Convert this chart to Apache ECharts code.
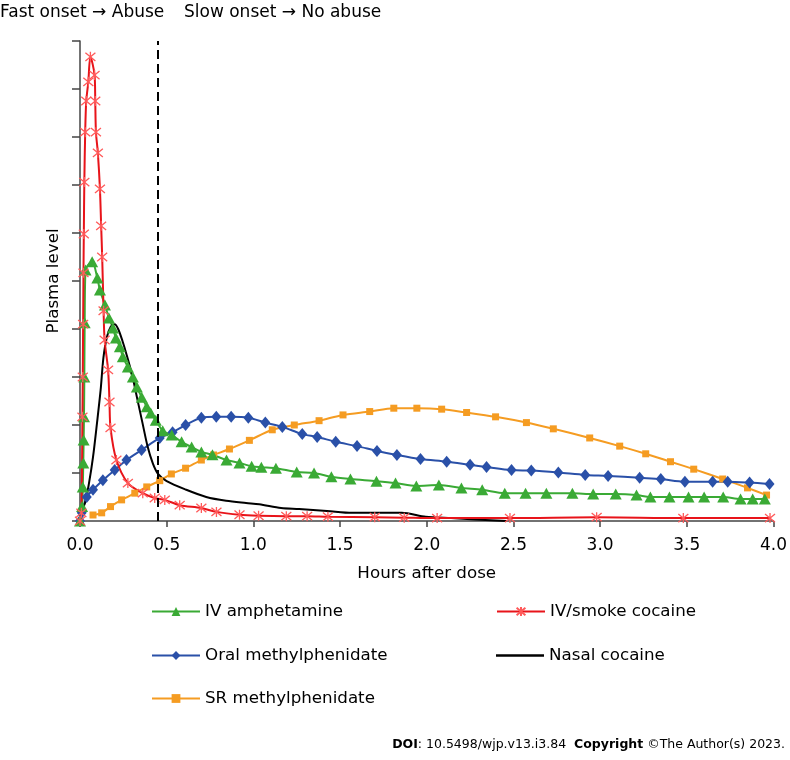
<!DOCTYPE html>
<html>
<head>
<meta charset="utf-8">
<script src="https://cdn.jsdelivr.net/npm/echarts@6/dist/echarts.min.js"></script>
<style>
html,body{margin:0;padding:0;background:#fff;}
#chart{width:790px;height:760px;}
</style>
</head>
<body>
<div id="chart"></div>
<script>
// ---- data (hours after dose, plasma level in % of axis) ----
const xTicks = [0, 0.5, 1.0, 1.5, 2.0, 2.5, 3.0, 3.5, 4.0];
const onsetCutoff = 0.45;

const ivAmphetamine = [
  [0,0],[0.012,3],[0.016,7.1],[0.019,12.1],[0.021,16.9],[0.023,21.7],[0.025,30],[0.027,41.3],
  [0.032,52.3],[0.07,54],[0.10,50.6],[0.115,48.1],[0.144,45],[0.167,42.3],[0.19,40.2],[0.207,38.1],
  [0.23,36.3],[0.247,34.2],[0.276,32.1],[0.305,30],[0.328,27.9],[0.356,25.8],[0.385,23.8],[0.408,22.5],
  [0.437,21],[0.477,18.8],[0.529,17.9],[0.586,16.5],[0.644,15.4],[0.70,14.4],[0.764,13.8],[0.845,12.7],
  [0.92,12.1],[0.99,11.4],[1.046,11.2],[1.13,11],[1.25,10.2],[1.35,10],[1.45,9.2],[1.56,8.75],
  [1.71,8.3],[1.82,7.9],[1.94,7.3],[2.07,7.5],[2.2,6.9],[2.32,6.5],[2.45,5.8],[2.57,5.8],
  [2.69,5.8],[2.84,5.8],[2.96,5.6],[3.09,5.6],[3.21,5.4],[3.29,5],[3.40,5],[3.51,5],
  [3.60,5],[3.71,5],[3.81,4.6],[3.88,4.6],[3.95,4.6]
];

const ivSmokeCocaine = [
  [0,0],[0.008,1.7],[0.014,21.7],[0.016,30],[0.018,41],[0.02,51.7],[0.022,59.8],[0.025,70.6],
  [0.03,81],[0.036,87.5],[0.048,91.5],[0.06,96.7],[0.084,92.9],[0.088,87.5],[0.092,81],[0.103,76.7],
  [0.115,69.2],[0.122,61.5],[0.128,55],[0.136,43.8],[0.142,37.7],[0.162,31.5],[0.17,24.8],[0.176,19.4],
  [0.21,12.7],[0.276,7.9],[0.362,5.8],[0.431,4.8],[0.489,4.4],[0.575,3.3],[0.70,2.7],[0.787,1.9],
  [0.92,1.3],[1.03,1.1],[1.19,1.0],[1.31,1.0],[1.43,0.9],[1.70,0.8],[1.87,0.7],[2.06,0.6],
  [2.48,0.6],[2.98,0.8],[3.48,0.6],[3.98,0.6]
];

const oralMethylphenidate = [
  [0,0],[0.01,1.7],[0.039,5],[0.075,6.5],[0.132,8.5],[0.20,10.6],[0.268,12.7],[0.355,14.8],
  [0.46,17.3],[0.534,18.5],[0.609,20],[0.70,21.5],[0.786,21.7],[0.872,21.7],[0.971,21.5],[1.069,20.5],
  [1.167,19.6],[1.282,18.1],[1.368,17.5],[1.475,16.5],[1.598,15.6],[1.713,14.6],[1.828,13.75],[1.964,12.9],
  [2.115,12.35],[2.25,11.7],[2.345,11.25],[2.489,10.6],[2.603,10.5],[2.759,10.1],[2.914,9.6],[3.046,9.4],
  [3.228,9.0],[3.35,8.75],[3.489,8.2],[3.649,8.2],[3.736,8.2],[3.862,8.0],[3.977,7.7]
];

const nasalCocaine = [
  [0,0],[0.004,1.7],[0.029,3.75],[0.052,7.9],[0.075,13.3],[0.098,20.4],[0.119,27.3],[0.135,34],
  [0.155,38.3],[0.178,40.5],[0.2,41],[0.22,40],[0.245,37.5],[0.27,34.5],[0.3,30.5],[0.33,25.5],
  [0.36,20.5],[0.39,15.5],[0.42,12],[0.45,9.8],[0.5,8.3],[0.613,6.5],[0.728,5],[0.843,4.2],
  [0.958,3.75],[1.034,3.5],[1.16,2.7],[1.264,2.5],[1.425,2.1],[1.569,1.7],[1.707,1.7],[1.856,1.7],
  [1.994,0.9],[2.14,0.6],[2.46,0]
];

const srMethylphenidate = [
  [0.075,1.25],[0.125,1.7],[0.176,3.0],[0.24,4.4],[0.316,5.8],[0.385,7.1],[0.46,8.4],[0.527,9.8],
  [0.609,11],[0.70,12.7],[0.77,13.75],[0.862,15],[0.977,16.8],[1.109,19],[1.236,20],[1.379,20.9],
  [1.517,22.1],[1.671,22.8],[1.81,23.5],[1.943,23.5],[2.086,23.3],[2.23,22.6],[2.397,21.7],[2.575,20.5],
  [2.73,19.2],[2.94,17.3],[3.113,15.6],[3.263,14],[3.406,12.35],[3.54,10.8],[3.707,8.75],[3.85,6.9],
  [3.96,5.4]
];

const seriesNames = ['IV amphetamine','IV/smoke cocaine','Oral methylphenidate','Nasal cocaine','SR methylphenidate'];
const topTextLeft = 'Fast onset \u2192 Abuse';
const topTextRight = 'Slow onset \u2192 No abuse';

// ---- chart ----
const FONT = 'DejaVu Sans';
const chart = echarts.init(document.getElementById('chart'), null, {renderer:'canvas'});
const asterisk = 'path://M0,0L10,10M10,0L0,10M5,-1L5,11';

function legendAt(name, left, top, extra){
  return Object.assign({data:[name], left:left, top:top, orient:'vertical', itemWidth:48, itemHeight:11, itemGap:5,
    textStyle:{fontFamily:FONT, fontSize:16.7, color:'#000'}, selectedMode:false}, extra || {});
}

const option = {
  animation:false,
  backgroundColor:'#fff',
  grid:{left:80, right:14, top:41, bottom:239, containLabel:false},
  xAxis:{
    type:'value', min:0, max:4, interval:0.5,
    name:'Hours after dose', nameLocation:'middle', nameGap:44,
    nameTextStyle:{fontFamily:FONT, fontSize:16.7, color:'#000'},
    axisLine:{lineStyle:{color:'#444', width:1.5}},
    axisTick:{show:true, length:6, lineStyle:{color:'#444', width:1.5}},
    axisLabel:{fontFamily:FONT, fontSize:17, color:'#000', margin:16, formatter:v=>v.toFixed(1)},
    splitLine:{show:false}
  },
  yAxis:{
    type:'value', min:0, max:100, interval:10,
    name:'Plasma level', nameLocation:'middle', nameGap:18, nameRotate:90,
    nameTextStyle:{fontFamily:FONT, fontSize:16.7, color:'#000'},
    axisLine:{show:true, lineStyle:{color:'#444', width:1.5}},
    axisTick:{show:true, length:8, lineStyle:{color:'#444', width:1.5}},
    axisLabel:{show:false},
    splitLine:{show:false}
  },
  legend:[
    legendAt(seriesNames[0], 146, 598),
    legendAt(seriesNames[2], 146, 642),
    legendAt(seriesNames[4], 146, 685),
    legendAt(seriesNames[1], 491, 598),
    legendAt({name:seriesNames[3], icon:'rect'}, 491, 642, {itemHeight:2.5})
  ],
  graphic:[
    {type:'text', left:0, top:4, style:{text:topTextLeft, font:'17px "DejaVu Sans"', fill:'#000'}},
    {type:'text', left:184, top:4, style:{text:topTextRight, font:'17px "DejaVu Sans"', fill:'#000'}},
    {type:'text', right:5, top:738, style:{
      text:'{b|DOI}: 10.5498/wjp.v13.i3.84  {b|Copyright} \u00A9The Author(s) 2023.',
      font:'12.5px "DejaVu Sans"', fill:'#000',
      rich:{b:{fontWeight:'bold', fontFamily:FONT, fontSize:12.5, fill:'#000'}}
    }}
  ],
  series:[
    {
      name:seriesNames[4], type:'line', data:srMethylphenidate, smooth:0.3,
      color:'#f59c22', lineStyle:{width:2, color:'#f59c22'},
      symbol:'rect', symbolSize:7, itemStyle:{color:'#f59c22'}
    },
    {
      name:seriesNames[2], type:'line', data:oralMethylphenidate, smooth:0.3,
      color:'#2a50a8', lineStyle:{width:2, color:'#2a50a8'},
      symbol:'diamond', symbolSize:[10,12], itemStyle:{color:'#2a50a8'}
    },
    {
      name:seriesNames[0], type:'line', data:ivAmphetamine, smooth:0.3,
      color:'#3aaa35', lineStyle:{width:2, color:'#3aaa35'},
      symbol:'triangle', symbolSize:[12,11], itemStyle:{color:'#3aaa35'}
    },
    {
      name:seriesNames[3], type:'line', data:nasalCocaine, smooth:0.3,
      color:'#000', lineStyle:{width:2, color:'#000'}, symbol:'none',
      markLine:{
        silent:true, symbol:'none', label:{show:false},
        lineStyle:{type:[9,5], color:'#000', width:2},
        data:[{xAxis:onsetCutoff}]
      }
    },
    {
      name:seriesNames[1], type:'line', data:ivSmokeCocaine, smooth:0.3,
      color:'#e8141a', lineStyle:{width:2, color:'#e8141a'},
      symbol:asterisk, symbolSize:10,
      itemStyle:{color:'rgba(0,0,0,0)', borderColor:'#ff5a5a', borderWidth:1.3}
    }
  ]
};
chart.setOption(option);
</script>
</body>
</html>
